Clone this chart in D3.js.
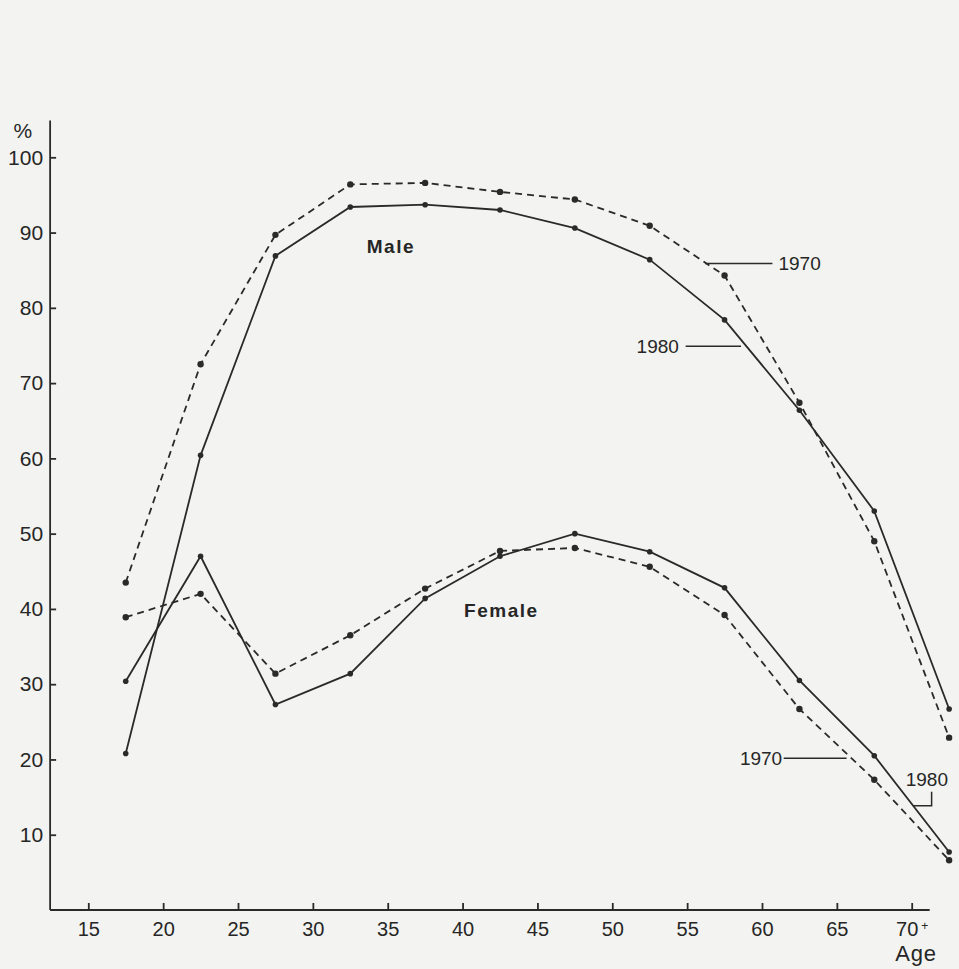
<!DOCTYPE html>
<html>
<head>
<meta charset="utf-8">
<script src="https://cdn.jsdelivr.net/npm/d3@7"></script>
<style>
    body { margin: 0; background: #f3f3f1; }
    svg { display: block; }
    text { font-family: "Liberation Sans", Arial, sans-serif; fill: #262626; }
</style>
</head>
<body>
<div id="chart"></div>
<script>
// labour force participation by age group (mid-point of each 5 year group)
const ages = [17.5, 22.5, 27.5, 32.5, 37.5, 42.5, 47.5, 52.5, 57.5, 62.5, 67.5, 72.5];
const male1970 = [43.5, 72.5, 89.7, 96.4, 96.6, 95.4, 94.4, 90.9, 84.3, 67.4, 49.0, 22.9];
const male1980 = [20.8, 60.4, 86.9, 93.4, 93.7, 93.0, 90.6, 86.4, 78.4, 66.4, 53.0, 26.7];
const female1970 = [38.9, 42.0, 31.4, 36.5, 42.7, 47.7, 48.1, 45.6, 39.2, 26.7, 17.3, 6.6];
const female1980 = [30.4, 47.0, 27.3, 31.4, 41.4, 47.0, 50.0, 47.6, 42.8, 30.5, 20.5, 7.7];
const xTicks = [15, 20, 25, 30, 35, 40, 45, 50, 55, 60, 65, 70];
const yTicks = [10, 20, 30, 40, 50, 60, 70, 80, 90, 100];

const series = [
    { name: 'male1970', values: male1970, dashed: true },
    { name: 'male1980', values: male1980, dashed: false },
    { name: 'female1970', values: female1970, dashed: true },
    { name: 'female1980', values: female1980, dashed: false }
];

const width = 959, height = 969;
const ink = '#2a2a2a';

const svg = d3.select('#chart').append('svg')
    .attr('width', width)
    .attr('height', height);

const x = d3.scaleLinear().domain([15, 70]).range([88.3, 911.7]);
const y = d3.scaleLinear().domain([0, 100]).range([910, 157.3]);

//axes, ticks point inwards
const yAxis = svg.append('g')
    .attr('transform', 'translate(' + x(12.45) + ',0)')
    .call(d3.axisLeft(y).tickValues(yTicks).tickSizeInner(-6).tickSizeOuter(0).tickPadding(7));
yAxis.select('.domain').attr('d', 'M0,' + y(0) + 'V' + y(104.9));

const xAxis = svg.append('g')
    .attr('transform', 'translate(0,' + y(0) + ')')
    .call(d3.axisBottom(x).tickValues(xTicks).tickSizeInner(-7).tickSizeOuter(0).tickPadding(12));
xAxis.select('.domain').attr('d', 'M' + x(12.45) + ',0H' + x(71.2));

svg.selectAll('.tick line, .domain').attr('stroke', ink).attr('stroke-width', 1.8);
yAxis.selectAll('text').attr('font-size', 21).attr('fill', '#262626');
xAxis.selectAll('text').attr('font-size', 20).attr('fill', '#262626');

//the "+" after 70
xAxis.selectAll('.tick text')
    .filter(d => d === 70)
    .append('tspan')
    .attr('font-size', 12)
    .attr('dx', 3)
    .attr('dy', -6)
    .text('+');

//lines
const line = d3.line()
    .x((d, i) => x(ages[i]))
    .y(d => y(d));

svg.selectAll('.series')
    .data(series)
    .enter().append('path')
    .attr('class', 'series')
    .attr('d', d => line(d.values))
    .attr('fill', 'none')
    .attr('stroke', ink)
    .attr('stroke-width', 1.8)
    .attr('stroke-dasharray', d => d.dashed ? '7,5' : null);

series.forEach(s => {
    svg.selectAll('.dot-' + s.name)
        .data(s.values)
        .enter().append('circle')
        .attr('cx', (d, i) => x(ages[i]))
        .attr('cy', d => y(d))
        .attr('r', s.dashed ? 3.2 : 2.8)
        .attr('fill', ink);
});

//labels, placed in data units
function label(txt, age, pct, anchor, size, weight, spacing) {
    svg.append('text')
        .attr('x', x(age))
        .attr('y', y(pct))
        .attr('dy', '0.35em')
        .attr('text-anchor', anchor)
        .attr('font-size', size)
        .attr('font-weight', weight || 'normal')
        .attr('letter-spacing', spacing || 0)
        .text(txt);
}

function leader(pts) {
    svg.append('path')
        .attr('d', d3.line().x(d => x(d[0])).y(d => y(d[1]))(pts))
        .attr('fill', 'none')
        .attr('stroke', ink)
        .attr('stroke-width', 1.5);
}

label('%', 10, 103.6, 'start', 21, 'normal');
label('Male', 33.6, 88.2, 'start', 19, 'bold', 1.5);
label('Female', 40.1, 39.8, 'start', 19, 'bold', 1.5);

label('1970', 61.1, 85.9, 'start', 19);
leader([[56.2, 85.9], [60.7, 85.9]]);
label('1980', 54.45, 74.9, 'end', 19);
leader([[54.9, 74.9], [58.6, 74.9]]);

label('1970', 61.35, 20.15, 'end', 19);
leader([[61.45, 20.15], [65.65, 20.15]]);
label('1980', 69.6, 17.3, 'start', 19);
leader([[71.33, 15.7], [71.33, 13.85], [70.1, 13.85]]);

svg.append('text')
    .attr('x', x(68.9))
    .attr('y', 961)
    .attr('font-size', 22)
    .attr('letter-spacing', 0.8)
    .text('Age');
</script>
</body>
</html>
